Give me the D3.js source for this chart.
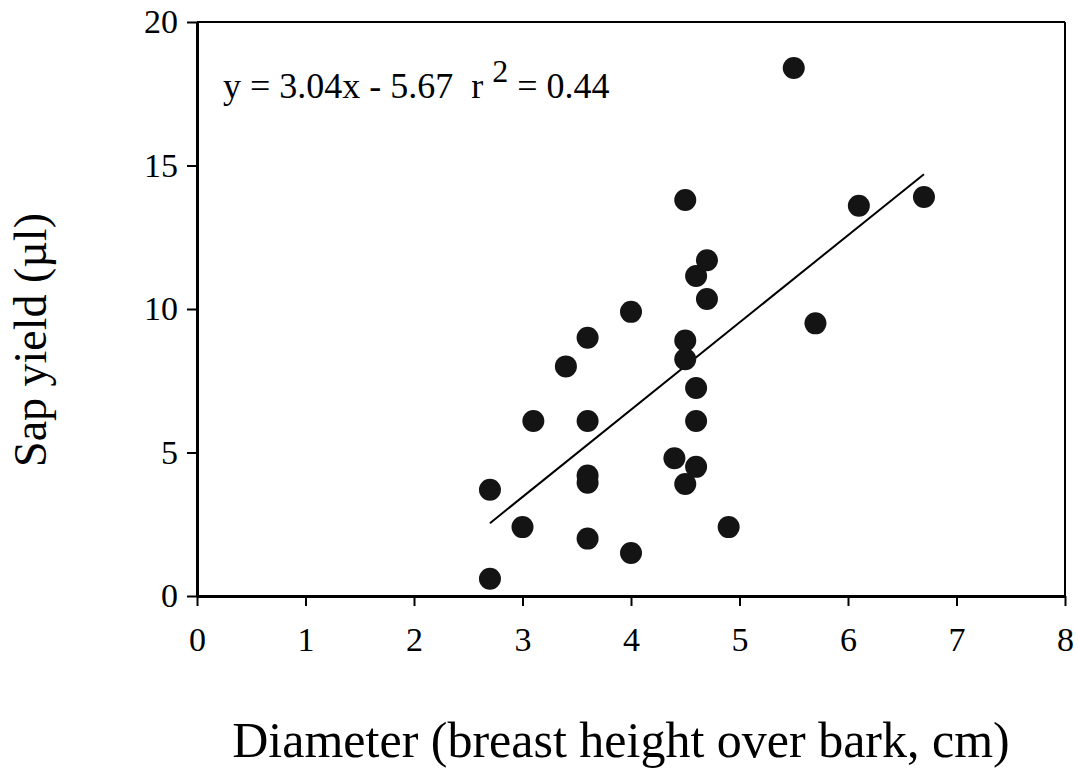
<!DOCTYPE html>
<html lang="en">
    <head>
        <meta charset="utf-8">
        <title>Sap yield vs diameter</title>
        <script src="https://d3js.org/d3.v7.min.js"></script>
        <style type="text/css">
            body { margin: 0; background: #fff; }
            .axis path { stroke: #000; stroke-width: 3px; }
            .axis line { stroke: #000; stroke-width: 2px; }
            .axis text { font-family: "Liberation Serif", serif; font-size: 34px; fill: #000; }
            .frame { stroke: #000; stroke-width: 2px; }
            .fit { fill: none; stroke: #000; stroke-width: 2px; }
            .label { font-family: "Liberation Serif", serif; fill: #000; }
        </style>
    </head>
    <body>
        <script type="text/javascript">

            const w = 1078;
            const h = 775;

            // diameter (cm) and sap yield (µl)
            const diameter = [2.7, 2.7, 3.0, 3.1, 3.4, 3.6, 3.6, 3.6, 3.6, 3.6, 4.0, 4.0, 4.4, 4.5,
                              4.5, 4.5, 4.5, 4.6, 4.6, 4.6, 4.6, 4.7, 4.7, 4.9, 5.5, 5.7, 6.1, 6.7];
            const sapYield = [3.7, 0.6, 2.4, 6.1, 8.0, 9.0, 6.1, 4.2, 3.95, 2.0, 9.9, 1.5, 4.8, 3.9,
                              8.9, 8.25, 13.8, 7.25, 6.1, 4.5, 11.15, 11.7, 10.35, 2.4, 18.4, 9.5, 13.6, 13.9];

            const xTicks = [0, 1, 2, 3, 4, 5, 6, 7, 8];
            const yTicks = [0, 5, 10, 15, 20];

            // regression reported on the chart
            const slope = 3.04;
            const intercept = -5.67;
            const rSquared = 0.44;
            const fitRange = [2.7, 6.7];

            const xScale = d3.scaleLinear().domain([0, 8]).range([197, 1065]);
            const yScale = d3.scaleLinear().domain([0, 20]).range([596, 22]);

            const svg = d3.select("body").append("svg").attr("width", w).attr("height", h);

            // top and right edges of the box
            svg.append("line").attr("class", "frame")
                .attr("x1", xScale(0)).attr("x2", xScale(8))
                .attr("y1", yScale(20)).attr("y2", yScale(20));
            svg.append("line").attr("class", "frame")
                .attr("x1", xScale(8)).attr("x2", xScale(8))
                .attr("y1", yScale(20)).attr("y2", yScale(0));

            const bottomAxis = d3.axisBottom(xScale).tickValues(xTicks).tickSize(10).tickSizeOuter(0).tickPadding(21);
            svg.append("g")
                .attr("class", "axis")
                .attr("transform", "translate(0," + yScale(0) + ")")
                .call(bottomAxis)
                .attr("font-family", null).attr("font-size", null);

            const leftAxis = d3.axisLeft(yScale).tickValues(yTicks).tickSize(10).tickSizeOuter(0).tickPadding(9);
            svg.append("g")
                .attr("class", "axis")
                .attr("transform", "translate(" + xScale(0) + ",0)")
                .call(leftAxis)
                .attr("font-family", null).attr("font-size", null);

            // fitted line
            const fitLine = d3.line().x(d => xScale(d)).y(d => yScale(slope * d + intercept));
            svg.append("path").attr("class", "fit").attr("d", fitLine(fitRange));

            svg.selectAll(".dot")
                .data(diameter)
                .enter()
                .append("circle")
                .attr("class", "dot")
                .attr("cx", d => xScale(d))
                .attr("cy", (d, i) => yScale(sapYield[i]))
                .attr("r", 11)
                .style("fill", "#141414");

            // equation text
            const eq = svg.append("text").attr("class", "label")
                .attr("x", 223).attr("y", 98).style("font-size", "36px");
            eq.append("tspan").text("y = " + slope.toFixed(2) + "x - " + Math.abs(intercept).toFixed(2) + "\u00a0\u00a0r ");
            eq.append("tspan").attr("dy", -16).style("font-size", "32px").text("2");
            eq.append("tspan").attr("dy", 16).text(" = " + rSquared.toFixed(2));

            svg.append("text").attr("class", "label")
                .attr("x", 621).attr("y", 757)
                .style("font-size", "50px")
                .style("text-anchor", "middle")
                .text("Diameter (breast height over bark, cm)");

            svg.append("text").attr("class", "label")
                .attr("transform", "translate(46,340) rotate(-90)")
                .style("font-size", "46px")
                .style("text-anchor", "middle")
                .text("Sap yield (\u00b5l)");
        </script>
    </body>
</html>
